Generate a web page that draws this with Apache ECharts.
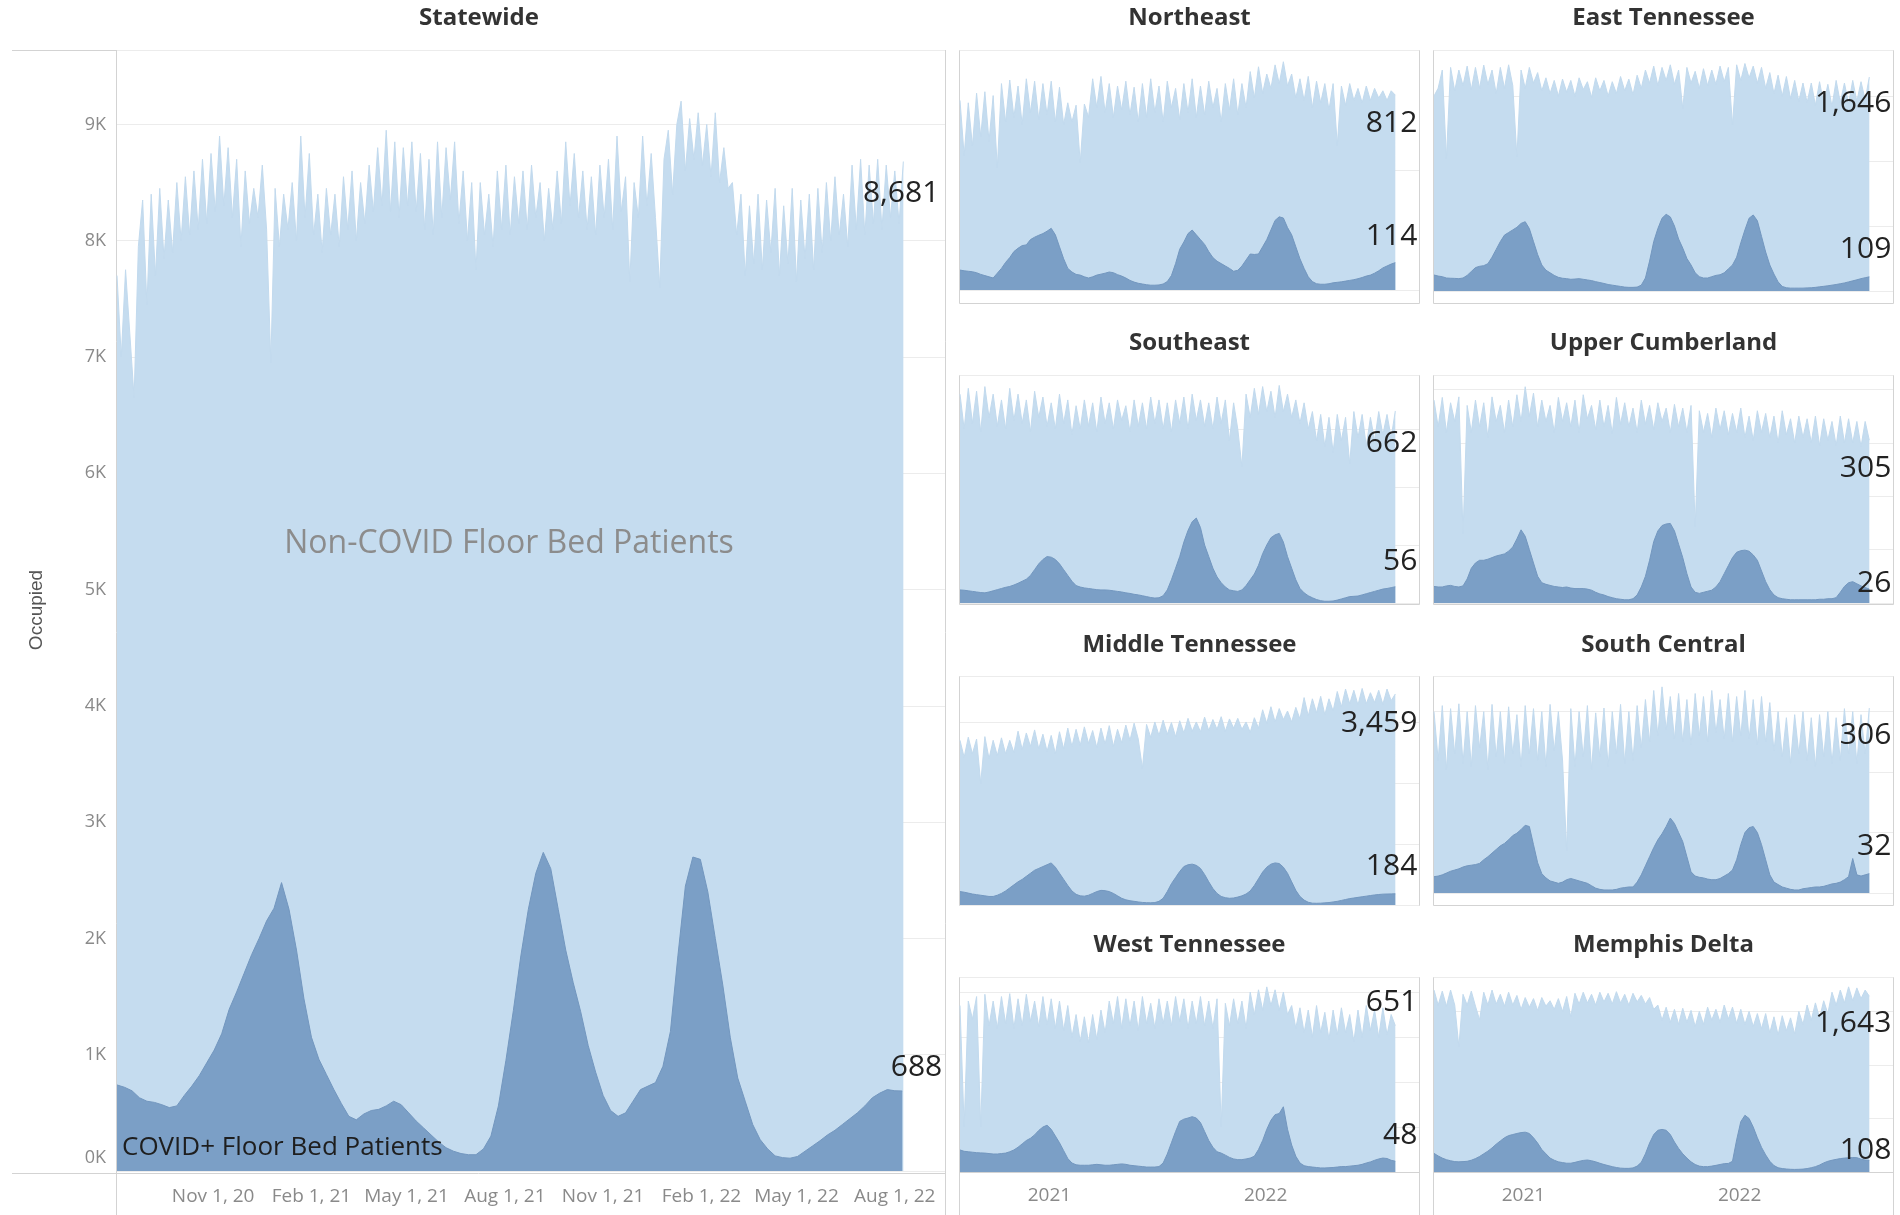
<!DOCTYPE html>
<html><head><meta charset="utf-8">
<script src="https://cdn.jsdelivr.net/npm/echarts@6/dist/echarts.min.js"></script>
<style>html,body{margin:0;padding:0;background:#fff}#c{width:1900px;height:1215px}</style>
</head><body><div id="c"></div>
<script>
// ---------- DATA ----------
// Statewide non-COVID floor bed patients, every 4 days from Aug 3, 2020
const STATE_NONCOVID = [
7700,7000,7750,7200,6650,7950,8350,7450,8400,7700,
8450,7850,8350,7900,8500,8000,8550,8050,8600,8100,
8700,8150,8750,8250,8900,8300,8800,8200,8700,7950,
8600,8150,8450,8200,8650,8100,6950,8450,7950,8400,
8100,8500,8000,8900,8200,8750,8050,8400,7900,8450,
8050,8400,7950,8550,8100,8600,8000,8500,8150,8650,
8250,8800,8300,8950,8250,8850,8200,8800,8300,8850,
8250,8750,8100,8700,8050,8850,8200,8800,8350,8850,
8150,8600,8000,8500,7750,8500,8050,8400,7950,8600,
8100,8650,8050,8550,8150,8600,8100,8650,8200,8500,
8000,8450,8100,8600,8150,8850,8300,8750,8200,8600,
8100,8550,8050,8650,8200,8700,8100,8900,8250,8550,
7650,8500,8200,8900,8300,8750,8200,7600,8700,8950,
8400,9000,9200,8600,9050,8700,9100,8650,9000,8550,
9100,8500,8800,8450,8500,8050,8400,7700,8300,7800,
8400,7750,8350,7900,8450,7700,8300,7800,8450,7650,
8350,7850,8400,7750,8450,7900,8500,8000,8550,8050,
8400,7950,8650,8100,8700,8050,8650,8150,8700,8100,
8650,8200,8600,8150,8681];
// Statewide COVID+ floor bed patients, weekly from Aug 3, 2020
const STATE_COVID = [
740,720,690,630,600,590,570,545,560,650,
730,820,930,1040,1180,1390,1540,1700,1860,2000,
2150,2260,2480,2250,1900,1480,1150,960,830,700,
580,470,440,490,520,530,560,600,570,500,
430,370,310,250,200,170,150,140,140,190,
300,560,950,1380,1850,2250,2560,2740,2600,2250,
1900,1620,1370,1080,850,650,520,470,500,600,
700,730,760,900,1200,1850,2450,2700,2680,2400,
2000,1600,1150,800,600,400,270,190,130,115,
110,125,170,215,260,310,350,400,450,500,
560,630,670,700,690,688];

// Regions, weekly from Aug 3, 2020
const NE_NONCOVID = [
790,560,780,600,820,640,826,620,810,510,
860,700,875,720,850,690,880,740,870,710,
860,730,870,700,845,690,780,700,770,530,
775,720,880,760,890,740,860,720,850,750,
870,730,845,700,860,720,880,740,850,700,
870,760,840,710,860,740,880,720,850,730,
870,760,840,700,860,750,880,730,860,760,
910,800,930,820,900,840,938,860,951,850,
900,800,880,790,890,760,870,780,860,750,
860,604,850,770,860,790,840,780,850,790,
840,800,830,790,830,812];
const NE_COVID = [
83,80,78,76,72,65,60,55,50,70,
90,115,135,160,174,185,188,210,220,228,
235,245,257,230,180,130,90,75,65,62,
55,50,55,62,66,70,75,72,64,58,
50,40,33,28,25,22,20,20,21,25,
35,60,110,170,200,235,250,230,210,190,
160,135,120,110,100,90,78,82,100,125,
150,148,150,180,210,250,290,305,300,260,
230,180,130,90,55,35,26,24,24,26,
30,32,34,37,40,43,47,52,58,62,
70,80,92,100,108,114];
const ET_NONCOVID = [
1500,1560,1700,1021,1720,1540,1700,1580,1730,1550,
1720,1560,1738,1590,1700,1520,1720,1560,1740,1580,
1031,1700,1560,1720,1600,1680,1540,1640,1520,1620,
1500,1630,1530,1620,1500,1640,1550,1610,1490,1640,
1540,1620,1500,1610,1520,1650,1540,1630,1510,1660,
1560,1700,1600,1730,1580,1720,1620,1740,1590,1700,
1405,1720,1600,1690,1560,1710,1580,1700,1590,1730,
1610,1720,1277,1740,1620,1750,1640,1730,1600,1720,
1560,1680,1520,1660,1500,1650,1480,1620,1460,1600,
1450,1600,1430,1610,1440,1590,1420,1620,1450,1600,
1440,1620,1460,1610,1470,1646];
const ET_COVID = [
123,115,110,100,98,97,95,100,120,150,
180,190,195,210,260,320,380,430,450,470,
490,520,533,480,380,280,200,160,140,120,
105,98,95,90,92,95,90,85,80,72,
65,58,50,45,40,35,30,28,28,30,
45,100,230,380,480,560,590,570,500,400,
330,250,200,140,110,100,100,110,120,125,
140,170,200,260,370,470,560,585,540,420,
300,200,130,70,35,25,22,22,22,22,
24,25,28,32,36,40,45,50,56,62,
70,78,86,95,102,109];
const SE_NONCOVID = [
720,600,740,620,730,590,746,640,720,610,
700,600,740,630,720,620,700,590,730,640,
710,610,690,600,720,620,700,580,680,600,
700,610,690,590,710,620,690,600,700,630,
680,590,700,610,690,600,710,620,700,600,
690,590,700,620,710,600,720,630,700,610,
690,600,710,620,700,560,690,600,470,720,
640,740,650,746,660,730,640,750,660,720,
640,700,620,690,600,660,560,650,540,640,
520,650,560,640,480,660,570,650,540,640,
560,660,580,650,570,662];
const SE_COVID = [
45,44,42,40,38,36,35,38,42,46,
50,54,57,62,68,75,82,95,115,135,
150,160,158,150,135,115,95,75,60,55,
52,50,48,46,45,45,44,42,40,38,
35,33,30,28,25,22,19,17,18,25,
45,80,120,160,210,250,280,293,260,200,
160,120,90,70,55,45,42,40,45,60,
80,100,130,170,200,225,235,240,210,160,
120,80,50,35,25,18,12,8,6,6,
7,10,14,18,22,23,24,28,32,36,
40,44,48,50,53,56];
const UC_NONCOVID = [
380,330,385,320,375,340,386,130,370,320,
380,330,375,310,386,340,370,320,380,330,
390,340,405,350,393,330,380,340,370,320,
385,340,375,330,380,320,390,345,370,325,
380,330,370,318,385,335,375,330,365,320,
380,335,370,325,375,340,365,320,372,330,
365,320,370,143,360,320,355,310,365,325,
360,315,355,320,365,310,350,305,360,320,
355,310,350,300,360,315,345,300,350,310,
345,300,350,295,345,305,340,295,350,300,
345,300,340,293,340,305];
const UC_COVID = [
31,30,30,32,33,31,30,32,45,65,
75,80,80,82,85,88,90,92,97,105,
120,137,125,100,75,50,38,35,33,31,
30,29,30,28,27,27,27,26,24,20,
17,15,12,10,8,7,6,6,8,15,
30,50,80,115,135,145,148,149,135,110,
85,55,30,20,18,20,22,24,30,40,
55,70,85,95,98,99,97,90,80,60,
40,25,15,10,8,7,6,6,6,6,
6,6,6,7,7,8,8,10,20,31,
38,40,36,32,29,26];
const MT_NONCOVID = [
2700,2420,2750,2480,2720,1995,2760,2400,2700,2450,
2740,2480,2700,2500,2850,2550,2820,2600,2870,2560,
2800,2520,2780,2480,2840,2560,2900,2600,2880,2620,
2920,2650,2860,2580,2900,2640,2940,2600,2880,2660,
2950,2700,2980,2720,2240,2960,2750,3000,2780,3030,
2800,2990,2760,3020,2820,3060,2850,3000,2840,3080,
2860,3040,2880,3087,2850,3050,2900,3060,2880,3000,
2830,3070,2900,3200,2980,3250,3000,3220,3040,3180,
3000,3240,3050,3400,3100,3380,3150,3420,3120,3380,
3180,3500,3250,3540,3300,3520,3280,3550,3300,3480,
3320,3520,3290,3540,3350,3459];
const MT_COVID = [
220,210,195,180,170,160,150,140,140,160,
190,230,280,330,380,420,470,520,570,600,
630,660,690,620,520,420,320,230,175,150,
145,160,190,220,240,235,220,190,150,110,
85,70,60,50,42,38,36,40,60,110,
220,350,450,550,630,660,670,650,600,500,
380,270,190,140,120,110,115,130,150,180,
230,320,430,540,620,670,690,680,620,520,
380,240,140,80,45,30,28,30,35,40,
50,60,75,90,105,115,125,135,145,155,
165,172,178,180,182,184];
const SC_NONCOVID = [
300,220,310,205,305,230,313,215,300,210,
310,240,300,205,312,225,300,215,308,230,
295,210,310,230,305,220,300,210,312,235,
300,220,71,305,210,300,225,310,205,298,
225,306,210,300,230,312,215,300,220,310,
240,320,250,335,260,341,270,325,255,330,
250,320,245,330,260,325,250,335,265,320,
255,330,250,325,260,335,255,320,245,325,
250,315,235,300,225,290,215,295,230,300,
220,290,210,295,225,300,215,290,220,305,
230,300,215,295,230,306];
const SC_COVID = [
27,28,30,33,36,38,40,43,45,46,
47,49,55,60,66,72,78,82,88,95,
99,105,112,110,80,50,32,25,20,18,
16,18,22,24,22,20,18,16,12,8,
6,5,5,5,6,8,9,10,10,18,
30,45,60,75,88,98,110,124,115,100,
85,60,35,28,26,25,23,22,22,24,
28,32,38,55,80,100,108,110,100,80,
55,30,18,14,10,8,6,5,5,7,
8,9,10,10,11,13,15,16,18,22,
27,57,30,28,30,32];
const WT_NONCOVID = [
740,202,760,680,780,202,790,650,760,640,
780,660,793,640,770,650,790,670,760,645,
780,655,770,640,760,630,740,600,700,580,
690,575,700,590,720,620,760,660,780,640,
770,650,760,630,780,660,750,640,770,660,
760,650,780,670,770,640,760,660,780,650,
760,640,770,202,750,650,770,660,760,640,
800,700,810,720,823,740,810,720,800,700,
740,640,730,620,720,600,740,620,710,590,
720,610,730,620,700,580,720,600,740,630,
720,600,730,610,700,651];
const WT_COVID = [
98,92,90,88,86,85,84,82,80,80,
82,84,90,98,110,125,140,150,165,185,
200,208,190,160,130,95,60,40,32,30,
30,30,32,34,32,30,30,32,34,36,
34,30,28,26,24,22,22,22,24,40,
80,130,180,225,235,240,246,240,220,180,
140,110,90,84,75,65,58,55,55,58,
62,70,100,140,190,230,255,260,290,190,
120,70,40,28,24,22,20,18,18,19,
20,22,24,24,26,28,30,34,40,45,
52,58,62,60,52,48];
const MD_NONCOVID = [
1700,1560,1690,1550,1700,1560,1171,1660,1560,1690,
1550,1421,1680,1560,1700,1570,1660,1550,1680,1560,
1650,1520,1630,1540,1620,1510,1630,1550,1600,1520,
1620,1500,1640,1450,1670,1570,1680,1580,1660,1560,
1680,1590,1670,1570,1685,1580,1660,1560,1670,1590,
1650,1570,1630,1520,1560,1420,1540,1400,1520,1380,
1530,1400,1510,1360,1500,1380,1540,1420,1520,1400,
1560,1430,1540,1390,1520,1380,1500,1360,1480,1340,
1480,1300,1450,1280,1460,1320,1440,1290,1500,1380,
1560,1420,1580,1440,1600,1480,1680,1560,1700,1580,
1730,1600,1720,1620,1700,1643];
const MD_COVID = [
174,150,130,115,105,97,95,97,100,110,
125,145,170,195,225,260,290,320,340,350,
360,368,372,360,320,270,210,170,130,110,
95,88,82,82,90,100,108,112,105,95,
82,70,60,50,42,36,34,34,38,55,
90,170,270,350,390,398,390,350,280,220,
170,130,95,70,55,50,50,55,62,70,
78,80,100,300,470,530,500,420,320,230,
160,100,60,40,32,28,25,24,25,27,
32,40,50,65,85,100,110,118,125,130,
132,135,134,120,112,108];

// Tick labels
const STATE_TICK_DATES = ['2020-11-01','2021-02-01','2021-05-01','2021-08-01','2021-11-01','2022-02-01','2022-05-01','2022-08-01'];
const STATE_TICK_LABELS = ['Nov 1, 20','Feb 1, 21','May 1, 21','Aug 1, 21','Nov 1, 21','Feb 1, 22','May 1, 22','Aug 1, 22'];
const REGION_TICK_DATES = ['2021-01-01','2022-01-01'];
const REGION_TICK_LABELS = ['2021','2022'];

// ---------- BUILD ----------
const DAY = 86400000;
const T0 = Date.UTC(2020, 7, 3);
const X_MAX = T0 + 775 * DAY;
const toTime = s => { const p = s.split('-').map(Number); return Date.UTC(p[0], p[1]-1, p[2]); };
const seq = (vals, step) => vals.map((v, i) => [T0 + i * step * DAY, v]);
const fmt = v => Number(v).toLocaleString('en-US');

const LIGHT = '#c5dcef', LIGHT_LINE = '#c2daee', DARK = '#7b9fc6', DARK_LINE = '#7397bf';
const GRIDC = '#ececec', BORDER = '#d3d3d3', FONT = "'Open Sans', 'Noto Sans', sans-serif";

const stateTicks = STATE_TICK_DATES.map(toTime);
const regionTicks = REGION_TICK_DATES.map(toTime);
const tickLabel = (ticks, labels, v) => { const i = ticks.findIndex(t => Math.abs(t - v) < DAY / 2); return i >= 0 ? labels[i] : ''; };

const PANELS = [
  {name:'Northeast',         non:NE_NONCOVID, cov:NE_COVID, col:0, row:0, top:50,  h:240, max:1000, iv:500,  offN:[22,28],  offC:[22,-26]},
  {name:'East Tennessee',    non:ET_NONCOVID, cov:ET_COVID, col:1, row:0, top:50,  h:241, max:1854, iv:500,  offN:[22,26],  offC:[22,-27]},
  {name:'Southeast',         non:SE_NONCOVID, cov:SE_COVID, col:0, row:1, top:375, h:228, max:786,  iv:200,  offN:[22,32],  offC:[22,-25]},
  {name:'Upper Cumberland',  non:UC_NONCOVID, cov:UC_COVID, col:1, row:1, top:375, h:228, max:427,  iv:100,  offN:[22,28],  offC:[22,-6]},
  {name:'Middle Tennessee',  non:MT_NONCOVID, cov:MT_COVID, col:0, row:2, top:676, h:229, max:3754, iv:1000, offN:[22,29],  offC:[22,-27]},
  {name:'South Central',     non:SC_NONCOVID, cov:SC_COVID, col:1, row:2, top:676, h:217, max:359,  iv:100,  offN:[22,27],  offC:[22,-27]},
  {name:'West Tennessee',    non:WT_NONCOVID, cov:WT_COVID, col:0, row:3, top:977, h:195, max:867,  iv:200,  offN:[22,-23], offC:[22,-26]},
  {name:'Memphis Delta',     non:MD_NONCOVID, cov:MD_COVID, col:1, row:3, top:977, h:195, max:1822, iv:500,  offN:[22,27],  offC:[22,-10]}
];
const COL_LEFT = [960, 1434], COL_W = 459;
const BOX = [[50,303],[375,604],[676,905],[977,1230]];
const TITLE_Y = [18, 343, 645, 945];
const TITLE_FONT = "700 24px 'Open Sans'";

const grids = [], xAxes = [], yAxes = [], series = [], graphics = [];

function endMark(vals, step, off) {
  const last = vals.length - 1;
  return {
    symbol: 'circle', symbolSize: 0, silent: true, animation: false,
    data: [{coord: [T0 + last * step * DAY, vals[last]], value: vals[last]}],
    label: {show: true, position: 'inside', align: 'right', verticalAlign: 'middle', offset: off,
      formatter: p => fmt(p.value), fontSize: 30, color: '#222', fontFamily: FONT}
  };
}
function addSeries(idx, non, cov, stepN, stepC, offN, offC) {
  series.push({type:'line', xAxisIndex:idx, yAxisIndex:idx, data:seq(non, stepN), showSymbol:false, symbol:'none',
    lineStyle:{width:1, color:LIGHT_LINE}, areaStyle:{color:LIGHT, opacity:1}, silent:true, animation:false, z:2,
    markPoint:endMark(non, stepN, offN)});
  series.push({type:'line', xAxisIndex:idx, yAxisIndex:idx, data:seq(cov, stepC), showSymbol:false, symbol:'none',
    lineStyle:{width:1, color:DARK_LINE}, areaStyle:{color:DARK, opacity:1}, silent:true, animation:false, z:3,
    markPoint:endMark(cov, stepC, offC)});
}

// Statewide
grids.push({left:117, top:50, width:828, height:1121});
xAxes.push({type:'value', gridIndex:0, min:T0, max:X_MAX,
  axisLine:{show:false}, axisTick:{show:false}, splitLine:{show:false},
  axisLabel:{customValues:stateTicks, formatter:v => tickLabel(stateTicks, STATE_TICK_LABELS, v), color:'#8a8a8a', fontSize:19, margin:16, fontFamily:FONT, hideOverlap:false}});
yAxes.push({type:'value', gridIndex:0, min:0, max:9640, interval:1000,
  axisLine:{show:false}, axisTick:{show:false},
  splitLine:{show:true, lineStyle:{color:GRIDC, width:1}},
  axisLabel:{color:'#8a8a8a', fontSize:18, margin:11, fontFamily:FONT,
    formatter:v => v === 0 ? '{z|0K}' : (v % 1000 === 0 ? (v/1000) + 'K' : ''),
    rich:{z:{color:'#8a8a8a', fontSize:18, fontFamily:FONT, padding:[0,0,26,0]}}}});
addSeries(0, STATE_NONCOVID, STATE_COVID, 4, 7, [36,32], [40,-24]);

PANELS.forEach((p, k) => {
  const idx = k + 1;
  const bottomRow = p.row === 3;
  grids.push({left:COL_LEFT[p.col], top:p.top, width:COL_W, height:p.h});
  xAxes.push({type:'value', gridIndex:idx, min:T0, max:X_MAX,
    axisLine:{show:bottomRow, lineStyle:{color:BORDER}}, axisTick:{show:false}, splitLine:{show:false},
    axisLabel:{show:bottomRow, customValues:regionTicks, formatter:v => tickLabel(regionTicks, REGION_TICK_LABELS, v),
      color:'#8a8a8a', fontSize:19, margin:14, fontFamily:FONT}});
  yAxes.push({type:'value', gridIndex:idx, min:0, max:p.max, interval:p.iv,
    axisLine:{show:false}, axisTick:{show:false}, axisLabel:{show:false},
    splitLine:{show:true, lineStyle:{color:GRIDC, width:1}}});
  addSeries(idx, p.non, p.cov, 7, 7, p.offN, p.offC);
  const x0 = COL_LEFT[p.col], b = BOX[p.row];
  graphics.push({type:'rect', z:0, shape:{x:x0-0.5, y:b[0]+0.5, width:COL_W+1, height:b[1]-b[0]}, style:{fill:null, stroke:BORDER, lineWidth:1}});
  graphics.push({type:'text', z:10, x:x0 + COL_W/2, y:TITLE_Y[p.row],
    style:{text:p.name, fill:'#333', font:TITLE_FONT, align:'center', verticalAlign:'middle'}});
});

// Statewide frame lines
const L = (x1,y1,x2,y2) => ({type:'line', z:0, shape:{x1,y1,x2,y2}, style:{stroke:BORDER, lineWidth:1}});
graphics.push(L(12,50.5,945,50.5), L(12,1173.5,945,1173.5), L(116.5,50,116.5,1215), L(945.5,50,945.5,1215));
graphics.push({type:'text', z:10, x:479, y:18, style:{text:'Statewide', fill:'#333', font:TITLE_FONT, align:'center', verticalAlign:'middle'}});
graphics.push({type:'text', z:10, x:37, y:610, rotation:Math.PI/2, style:{text:'Occupied', fill:'#555', font:"19px 'Liberation Sans'", align:'center', verticalAlign:'middle'}});
graphics.push({type:'text', z:10, x:509, y:544, style:{text:'Non-COVID Floor Bed Patients', fill:'#8c8c8c', font:"32px 'Open Sans'", align:'center', verticalAlign:'middle'}});
graphics.push({type:'text', z:10, x:122, y:1148, style:{text:'COVID+ Floor Bed Patients', fill:'#1e1e1e', font:"26px 'Open Sans'", align:'left', verticalAlign:'middle'}});

const chart = echarts.init(document.getElementById('c'), null, {renderer:'canvas', width:1900, height:1215});
chart.setOption({
  animation:false,
  backgroundColor:'#ffffff',
  textStyle:{fontFamily:FONT},
  grid:grids, xAxis:xAxes, yAxis:yAxes, series:series,
  graphic:{elements:graphics}
});
</script></body></html>
